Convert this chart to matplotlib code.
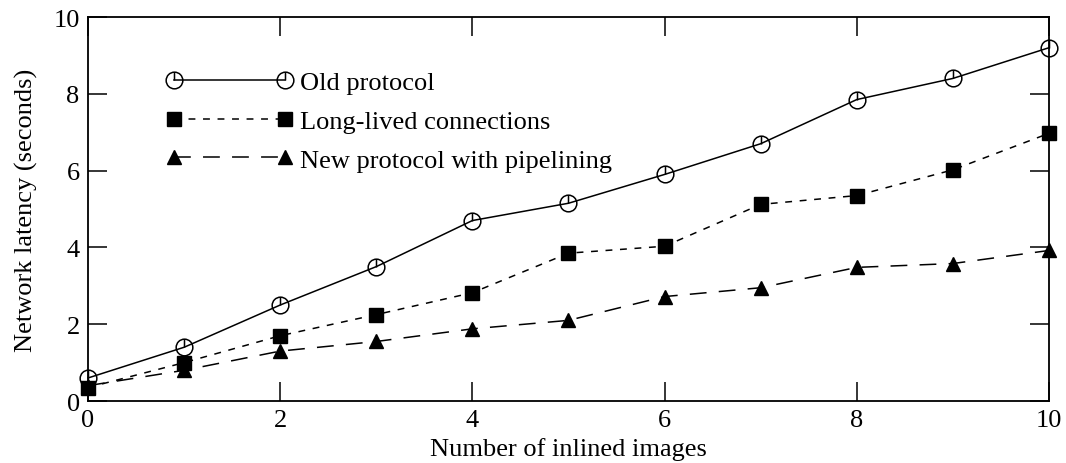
import matplotlib
matplotlib.use("Agg")
import matplotlib.pyplot as plt
from matplotlib.path import Path
import numpy as np

images = [0, 1, 2, 3, 4, 5, 6, 7, 8, 9, 10]
old_protocol = [0.6, 1.4, 2.5, 3.5, 4.7, 5.15, 5.9, 6.7, 7.85, 8.4, 9.2]
long_lived = [0.35, 1.0, 1.7, 2.25, 2.82, 3.85, 4.03, 5.12, 5.35, 6.02, 6.97]
pipelining = [0.4, 0.8, 1.3, 1.55, 1.88, 2.1, 2.72, 2.95, 3.48, 3.58, 3.92]
xticks = [0, 2, 4, 6, 8, 10]
yticks = [0, 2, 4, 6, 8, 10]

plt.rcParams['font.family'] = ['Liberation Serif', 'DejaVu Serif']
plt.rcParams['mathtext.fontset'] = 'stix'

circ = Path.circle((0, 0), 1.0)
seg = Path([(0, 0), (0, 1)], [Path.MOVETO, Path.LINETO])
circ_marker = Path.make_compound_path(circ, seg)

fig = plt.figure(figsize=(10.66, 4.64), dpi=100)
ax = fig.add_axes([0.0826, 0.1336, 0.9014, 0.8276])

fs = 19
ax.plot(images, old_protocol, color='black', lw=1.1, ls='-',
        marker=circ_marker, ms=12, mfc='none', mec='black', mew=1.1,
        label='Old protocol', clip_on=False, zorder=3)
ax.plot(images, long_lived, color='black', lw=1.1, ls=(0, (4.5, 5)),
        marker='s', ms=10, mfc='black', mec='black',
        label='Long-lived connections', clip_on=False, zorder=3)
ax.plot(images, pipelining, color='black', lw=1.1, ls=(0, (11, 8)),
        marker='^', ms=10, mfc='black', mec='black',
        label='New protocol with pipelining', clip_on=False, zorder=3)

ax.set_xlim(0, 10)
ax.set_ylim(0, 10)
ax.set_xticks(xticks)
ax.set_yticks(yticks)
ax.tick_params(direction='in', length=14, width=1.1, top=True, right=True,
               labelsize=fs, pad=6)
for s in ax.spines.values():
    s.set_linewidth(1.3)

ax.set_xlabel('Number of inlined images', fontsize=fs, labelpad=4)
ax.set_ylabel('Network latency (seconds)', fontsize=fs, labelpad=11)

leg = ax.legend(loc='upper left', bbox_to_anchor=(0.07, 0.888), frameon=False,
                fontsize=fs, numpoints=2, handlelength=4.8, handletextpad=0.3,
                labelspacing=0.58, borderaxespad=0)

fig.savefig('out.png', dpi=100)
